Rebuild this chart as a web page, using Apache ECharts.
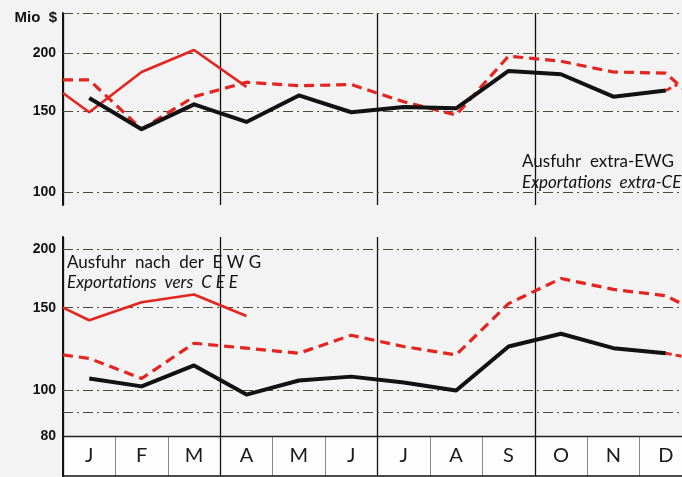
<!DOCTYPE html>
<html>
<head>
<meta charset="utf-8">
<script src="https://cdn.jsdelivr.net/npm/echarts@6/dist/echarts.min.js"></script>
<style>
  html, body { margin: 0; padding: 0; background: #f3f3f3; }
  #chart { width: 682px; height: 477px; }
</style>
</head>
<body>
<div id="chart"></div>
<script>
// months along the bottom row
const months = ['J', 'F', 'M', 'A', 'M', 'J', 'J', 'A', 'S', 'O', 'N', 'D'];

// upper panel: Ausfuhr extra-EWG (Mio $)
const extraCur = [160, 137, 155, 142, 162, 149, 153, 152, 183, 180, 161, 166];
const extraPrev = [175, 137, 161, 173, 170, 171, 157, 147, 197, 192, 182, 181];
const extraPrevEdges = [175, 161];      // value at left / right border
const extraOld = [149, 182, 203, 169];  // J..A only
const extraOldEdge = 164;
const extraTail = [166, 171];           // red dashed stub after D

// lower panel: Ausfuhr nach der EWG (Mio $)
const intraCur = [106, 102, 113, 98, 105, 107, 104, 100, 124, 132, 123, 120];
const intraPrev = [117, 106, 126, 123, 120, 131, 124, 119, 153, 173, 164, 159];
const intraPrevEdges = [119, 149];
const intraOld = [141, 154, 160, 144];
const intraOldEdge = 150;
const intraTail = [120, 117];

// gridline values and their labels
const upperTicks = [244, 200, 150, 100];
const upperTickLabels = ['', '200', '150', '100'];
const lowerTicks = [200, 150, 100, 90, 80];
const lowerTickLabels = ['200', '150', '100', '', '80'];

const RED = '#e4241f';
const BLACK = '#121212';
const FONT = 'Lato, "Liberation Sans", sans-serif';

function monthly(vals) {
  return vals.map((v, i) => [i + 0.5, v]);
}

function gridLines(ticks, labels, solidValue) {
  return {
    z: 1,
    silent: true,
    symbol: 'none',
    label: {
      show: true, position: 'start', distance: 7,
      color: '#111', fontSize: 14, fontFamily: '"Liberation Sans", sans-serif', fontWeight: 'bold'
    },
    data: ticks.map((t, i) => ({
      yAxis: t,
      label: { formatter: labels[i] || '' },
      lineStyle: t === solidValue
        ? { type: 'solid', color: '#222', width: 1.4 }
        : { type: [10, 4, 2, 4], color: '#4a4a3a', width: 1 }
    }))
  };
}

let myChart = echarts.init(document.getElementById('chart'));

let axisOff = { show: false };
let option = {
  backgroundColor: '#f3f3f3',
  animation: false,
  grid: [
    { left: 63, top: 13, width: 629, height: 192, outerBoundsMode: 'none', containLabel: false },
    { left: 63, top: 237, width: 629, height: 199, outerBoundsMode: 'none', containLabel: false },
    { left: 63, top: 436, width: 629, height: 40, outerBoundsMode: 'none', containLabel: false,
      show: true, backgroundColor: '#fdfdfd', borderWidth: 0 }
  ],
  xAxis: [
    { gridIndex: 0, type: 'value', min: 0, max: 12, interval: 3,
      axisLine: axisOff, axisTick: axisOff, axisLabel: axisOff,
      splitLine: { show: true, lineStyle: { color: BLACK, width: 1.3 } } },
    { gridIndex: 1, type: 'value', min: 0, max: 12, interval: 3,
      axisLine: axisOff, axisTick: axisOff, axisLabel: axisOff,
      splitLine: { show: true, lineStyle: { color: BLACK, width: 1.3 } } },
    { gridIndex: 2, type: 'category', data: months, boundaryGap: true,
      axisLine: { show: true, lineStyle: { color: BLACK, width: 1.5 } },
      axisTick: axisOff,
      axisLabel: { inside: true, margin: 10, fontSize: 20, color: '#1b1b1b', fontFamily: FONT, interval: 0 },
      splitLine: { show: true, interval: 0, lineStyle: { color: '#8a8a80', width: 1 } } },
    { gridIndex: 2, type: 'value', min: 0, max: 12, interval: 3,
      axisLine: axisOff, axisTick: axisOff, axisLabel: axisOff,
      splitLine: { show: true, lineStyle: { color: BLACK, width: 1.3 } } }
  ],
  yAxis: [
    { gridIndex: 0, type: 'log', logBase: 10, min: 94, max: 244,
      axisLine: { show: true, lineStyle: { color: BLACK, width: 2 } },
      axisTick: axisOff, axisLabel: axisOff, splitLine: axisOff },
    { gridIndex: 1, type: 'log', logBase: 10, min: 80, max: 212,
      axisLine: { show: true, lineStyle: { color: BLACK, width: 2 } },
      axisTick: axisOff, axisLabel: axisOff, splitLine: axisOff },
    { gridIndex: 2, type: 'value', min: 0, max: 1,
      axisLine: { show: true, lineStyle: { color: BLACK, width: 2 } },
      axisTick: axisOff, axisLabel: axisOff, splitLine: axisOff }
  ],
  graphic: [
    { type: 'text', x: 57, y: 18, style: { text: 'Mio  $', font: 'bold 15px "Liberation Sans", sans-serif', fill: '#111', textAlign: 'right', textVerticalAlign: 'middle' } },
    { type: 'text', x: 522, y: 162, style: { text: 'Ausfuhr  extra-EWG', font: '17px ' + FONT, fill: '#111', textVerticalAlign: 'middle' } },
    { type: 'text', x: 522, y: 183, style: { text: 'Exportations  extra-CEE', font: 'italic 17px ' + FONT, fill: '#111', textVerticalAlign: 'middle' } },
    { type: 'text', x: 67, y: 263, style: { text: 'Ausfuhr  nach  der  E W G', font: '17px ' + FONT, fill: '#111', textVerticalAlign: 'middle' } },
    { type: 'text', x: 67, y: 283, style: { text: 'Exportations  vers  C E E', font: 'italic 17px ' + FONT, fill: '#111', textVerticalAlign: 'middle' } }
  ],
  series: [
    // gridlines
    { type: 'line', xAxisIndex: 0, yAxisIndex: 0, data: [], z: 1,
      markLine: gridLines(upperTicks, upperTickLabels, null) },
    { type: 'line', xAxisIndex: 1, yAxisIndex: 1, data: [], z: 1,
      markLine: gridLines(lowerTicks, lowerTickLabels, 80) },

    // upper panel
    { name: 'extra old', type: 'line', xAxisIndex: 0, yAxisIndex: 0, symbol: 'none', z: 3,
      lineStyle: { color: RED, width: 2.6 },
      data: [[0, extraOldEdge]].concat(monthly(extraOld)) },
    { name: 'extra prev', type: 'line', xAxisIndex: 0, yAxisIndex: 0, symbol: 'none', z: 4,
      lineStyle: { color: RED, width: 3.2, type: [10, 6] },
      data: [[0, extraPrevEdges[0]]].concat(monthly(extraPrev), [[12, extraPrevEdges[1]]]) },
    { name: 'extra cur', type: 'line', xAxisIndex: 0, yAxisIndex: 0, symbol: 'none', z: 5,
      lineStyle: { color: BLACK, width: 4, join: 'round' },
      data: monthly(extraCur) },
    { name: 'extra tail', type: 'line', xAxisIndex: 0, yAxisIndex: 0, symbol: 'none', z: 4,
      lineStyle: { color: RED, width: 3, type: [6, 4] },
      data: [[11.5, extraTail[0]], [11.72, extraTail[1]]] },

    // lower panel
    { name: 'intra old', type: 'line', xAxisIndex: 1, yAxisIndex: 1, symbol: 'none', z: 3,
      lineStyle: { color: RED, width: 2.6 },
      data: [[0, intraOldEdge]].concat(monthly(intraOld)) },
    { name: 'intra prev', type: 'line', xAxisIndex: 1, yAxisIndex: 1, symbol: 'none', z: 4,
      lineStyle: { color: RED, width: 3.2, type: [10, 6] },
      data: [[0, intraPrevEdges[0]]].concat(monthly(intraPrev), [[12, intraPrevEdges[1]]]) },
    { name: 'intra cur', type: 'line', xAxisIndex: 1, yAxisIndex: 1, symbol: 'none', z: 5,
      lineStyle: { color: BLACK, width: 4, join: 'round' },
      data: monthly(intraCur) },
    { name: 'intra tail', type: 'line', xAxisIndex: 1, yAxisIndex: 1, symbol: 'none', z: 4,
      lineStyle: { color: RED, width: 3, type: [6, 4] },
      data: [[11.5, intraTail[0]], [12, intraTail[1]]] }
  ]
};

myChart.setOption(option);
</script>
</body>
</html>
